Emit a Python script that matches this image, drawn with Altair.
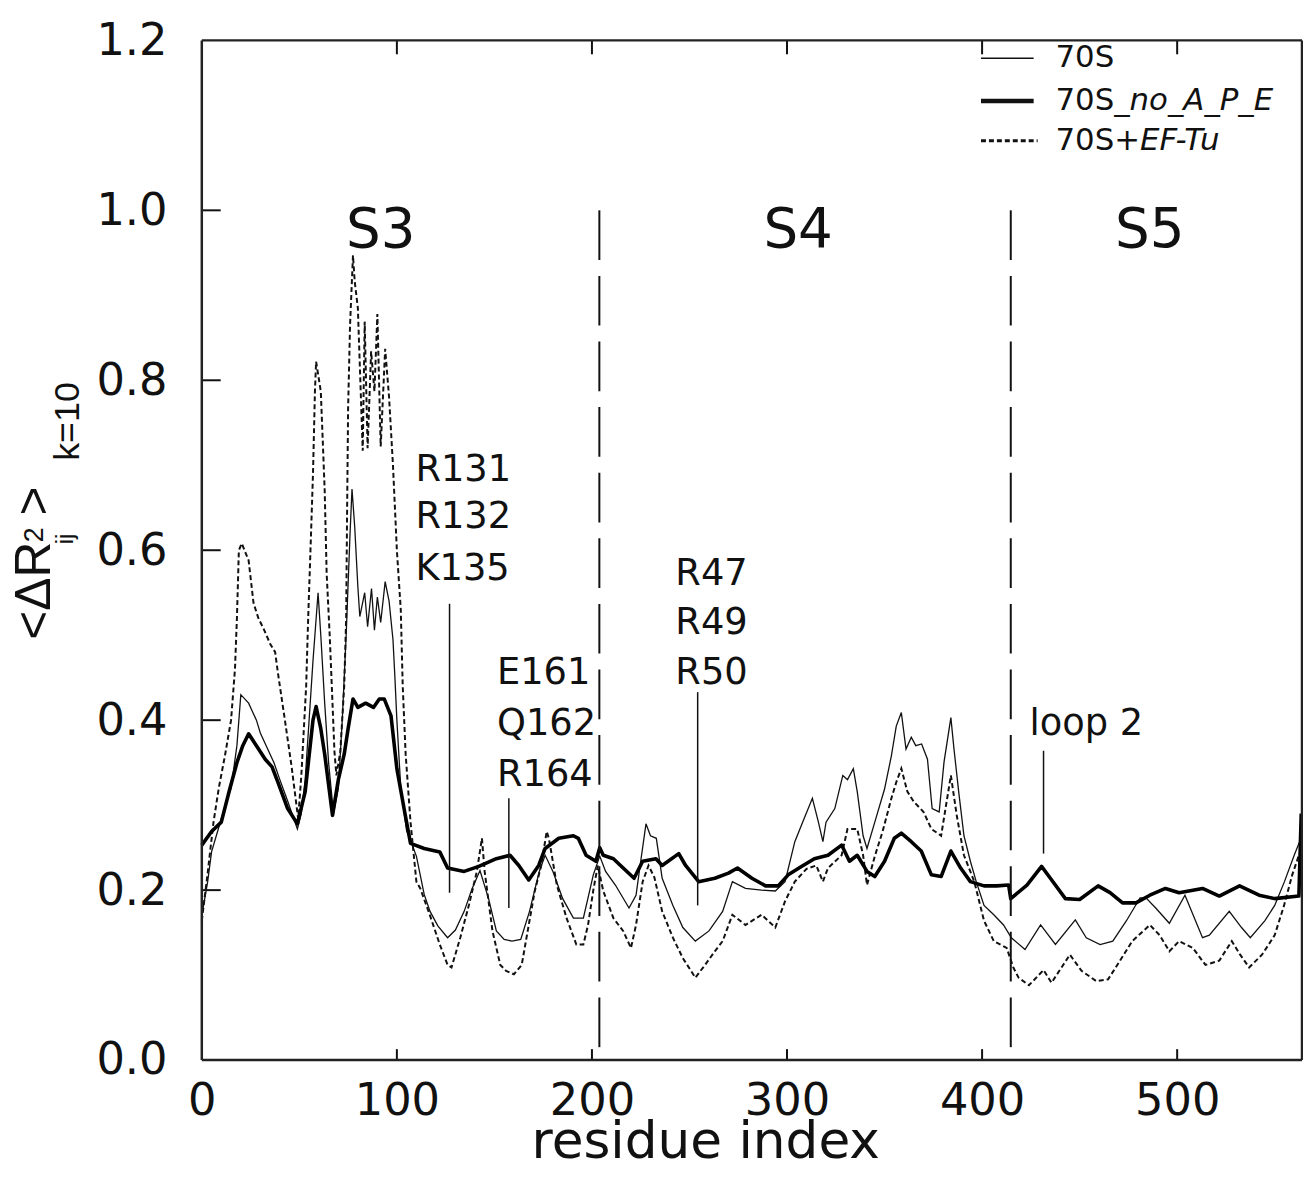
import altair as alt
import pandas as pd

# ---------------- data ----------------
thin_x = [0, 3, 5, 10, 15, 18, 20, 24, 26, 28, 30, 33, 37, 40, 44, 49, 51, 53, 55, 57, 59.6, 61, 63, 65, 67.5,
          70, 72, 74, 76, 77, 78.4, 80, 81, 83.5, 85, 87, 88.5, 90, 91.7, 94, 96, 98, 99, 100, 102, 105, 110,
          114, 117, 121, 126, 130, 134.5, 138.6, 142.6, 147, 151, 155, 159, 163.5, 168, 173, 176, 180, 185,
          190.5, 195.6, 200.7, 204, 207, 212, 219, 222.6, 225, 227.7, 230, 233, 236, 241.5, 246.6, 253, 260,
          267, 272, 278.7, 287, 294, 299, 304, 308, 313, 316, 318.4, 320, 324.5, 328.6, 331, 334, 336, 339,
          341, 345, 350, 353.5, 356, 358.6, 361, 363.7, 366, 369, 372, 374.4, 378, 380.5, 384, 385.6, 388,
          390.7, 394, 397, 401, 406, 411, 415, 422, 430, 437.6, 447.8, 453.4, 460.5, 467, 474, 481, 484, 489,
          496, 504, 513, 516.5, 526.7, 533, 537.5, 545, 550, 555, 560, 564]
thin_y = [0.17, 0.21, 0.245, 0.284, 0.32, 0.37, 0.43, 0.42, 0.41, 0.40, 0.385, 0.37, 0.35, 0.33, 0.305, 0.272,
          0.29, 0.33, 0.40, 0.47, 0.55, 0.50, 0.42, 0.35, 0.29,
          0.32, 0.40, 0.50, 0.62, 0.672, 0.627, 0.557, 0.522, 0.55, 0.51, 0.555, 0.506, 0.545, 0.515, 0.563,
          0.54, 0.495, 0.45, 0.40, 0.32, 0.27, 0.24,
          0.195, 0.175, 0.158, 0.144, 0.153, 0.175, 0.202, 0.223, 0.19, 0.152, 0.142, 0.14, 0.142, 0.175,
          0.222, 0.241, 0.222, 0.19,
          0.167, 0.167, 0.218, 0.24, 0.222, 0.206, 0.179, 0.194, 0.234, 0.278, 0.264, 0.261, 0.214, 0.182,
          0.156, 0.14, 0.152,
          0.175, 0.21, 0.202, 0.2, 0.199, 0.21, 0.257, 0.28, 0.308, 0.281, 0.257, 0.28, 0.296, 0.335, 0.33,
          0.343, 0.316, 0.264,
          0.249, 0.28, 0.319, 0.358, 0.393, 0.409, 0.366, 0.38, 0.37, 0.372, 0.354, 0.296, 0.292, 0.351,
          0.403, 0.366, 0.316,
          0.264, 0.234, 0.21, 0.182, 0.171, 0.159, 0.144, 0.13, 0.159, 0.136, 0.165, 0.144, 0.136, 0.14,
          0.164, 0.191, 0.191, 0.179,
          0.161, 0.194, 0.144, 0.147, 0.175, 0.156, 0.144, 0.164, 0.182, 0.21, 0.241, 0.264]

thick_x = [0, 5, 10, 14, 18, 21, 24, 28, 32.5, 36, 39, 44, 49, 53, 57, 58.6, 61, 63, 67, 70, 73, 75, 77.5,
           80, 84, 88, 91, 93.5, 97, 100, 104, 107, 114, 122, 126, 134.5, 142, 151, 158, 162.5, 167.6,
           172.7, 176, 183, 190.5, 193, 197, 202, 204, 205.8, 211, 216, 221.6, 226, 232.8, 236, 244.5, 248,
           254.7, 263, 270, 274.6, 282, 289, 295.5, 300.6, 307.6, 314, 321, 328, 332, 336, 341, 345, 350,
           355, 358.6, 363.7, 368.8, 374, 379, 384, 389, 394, 401, 407.5, 413.6, 414.7, 423, 430.5, 435,
           442.7, 450, 459.5, 465.6, 472, 478.9, 486, 494, 501, 513, 521.6, 532, 542, 550, 562.4, 563.6]
thick_y = [0.253, 0.269, 0.28, 0.316, 0.35, 0.37, 0.384, 0.37, 0.354, 0.345, 0.327, 0.296, 0.278, 0.316,
           0.40, 0.416, 0.39, 0.36, 0.288, 0.33, 0.36, 0.39, 0.425,
           0.415, 0.42, 0.415, 0.425, 0.425, 0.405, 0.343, 0.292, 0.255, 0.249, 0.245, 0.226, 0.222,
           0.228, 0.237, 0.241, 0.229, 0.212,
           0.229, 0.249, 0.261, 0.264, 0.261, 0.241, 0.234, 0.25, 0.241, 0.237, 0.226, 0.214, 0.234,
           0.237, 0.229, 0.243, 0.229,
           0.21, 0.214, 0.22, 0.226, 0.214, 0.205, 0.205, 0.218, 0.228, 0.237, 0.241, 0.253, 0.234,
           0.241, 0.222, 0.216, 0.234,
           0.261, 0.267, 0.257, 0.246, 0.218, 0.216, 0.246, 0.226, 0.21, 0.205, 0.205, 0.206, 0.19,
           0.206, 0.228, 0.214,
           0.19, 0.189, 0.205, 0.197, 0.185, 0.185, 0.194, 0.202, 0.197, 0.202, 0.193, 0.205, 0.194,
           0.19, 0.193, 0.29]

dash_x = [0, 3, 6, 8.7, 12, 15, 17, 18, 19, 20.5, 24, 26.5, 29, 31.6, 35, 37.6, 39, 42.6, 46, 49.4, 51,
          53.5, 54.5, 56, 57, 58, 58.6, 61, 62, 63, 64, 65.6, 67, 68, 69, 71, 73, 74, 74.5, 75, 76, 77.5,
          78.4, 80, 82.5, 83.5, 85, 86.8, 88.5, 90, 91.7, 94, 96, 98, 99, 100, 102, 103, 104.5, 107, 110,
          112, 117, 122, 126, 128, 132.5, 137, 141, 143.6, 145, 149, 153, 156, 160, 164, 167.6, 170.7, 174,
          176.8, 178, 182, 187, 192, 195.6, 198, 200.7, 203, 205.8, 211, 216, 220, 222.6, 226, 229, 232,
          236, 241.5, 246.6, 253, 258, 263, 267, 272, 278.7, 287, 294, 299, 304, 310, 315, 318.4, 321,
          328, 331, 336, 339, 341, 345, 349, 353.5, 356, 358.6, 361.7, 365, 370, 374, 379, 384, 387,
          390.7, 396, 401, 406, 412.6, 416, 418.7, 424, 431.5, 435.6, 445, 451, 458.5, 464.6, 470.7, 477,
          486, 491, 496, 501, 508, 514.5, 521.6, 528, 532, 536.9, 543.5, 550, 554.8, 559, 562.4]
dash_y = [0.164, 0.22, 0.28, 0.32, 0.36, 0.40, 0.46, 0.52, 0.60, 0.608, 0.588, 0.538, 0.52, 0.508, 0.49,
          0.48, 0.456, 0.40, 0.346, 0.284, 0.334,
          0.44, 0.518, 0.62, 0.69, 0.787, 0.822, 0.787, 0.729, 0.67, 0.573, 0.498, 0.42, 0.363, 0.335,
          0.363, 0.44, 0.52, 0.65, 0.767, 0.865, 0.947,
          0.916, 0.885, 0.717, 0.869, 0.72, 0.834, 0.787, 0.878, 0.722, 0.837, 0.78, 0.70, 0.65, 0.60,
          0.53, 0.44, 0.36, 0.28, 0.21,
          0.202, 0.17, 0.136, 0.112, 0.109, 0.144, 0.183, 0.222, 0.261, 0.222, 0.152, 0.112, 0.105,
          0.101, 0.112, 0.159, 0.199, 0.229,
          0.269, 0.26, 0.206, 0.167, 0.136, 0.136, 0.159, 0.20, 0.229, 0.199, 0.167, 0.152, 0.132,
          0.159, 0.21, 0.229, 0.215,
          0.175, 0.144, 0.12, 0.097, 0.112, 0.128, 0.14, 0.171, 0.159, 0.171, 0.156, 0.187, 0.21, 0.225,
          0.229, 0.21, 0.226,
          0.241, 0.272, 0.272, 0.241, 0.206, 0.24, 0.269, 0.308, 0.327, 0.343, 0.316, 0.304, 0.292,
          0.272, 0.264, 0.335, 0.288,
          0.241, 0.21, 0.164, 0.14, 0.132, 0.109, 0.097, 0.088, 0.106, 0.091, 0.124, 0.105, 0.093, 0.095,
          0.117, 0.14,
          0.159, 0.147, 0.128, 0.14, 0.132, 0.112, 0.117, 0.14, 0.125, 0.109, 0.124, 0.147, 0.182,
          0.218, 0.241]

boundary_x = [203.8, 414.7]

region_labels = ["S3", "S4", "S5"]
region_x = [91.7, 305.7, 486.0]
region_y = [0.957, 0.957, 0.957]

ann_left_labels = ["R131", "R132", "K135", "E161", "Q162", "R164"]
ann_left_x = [109.5, 109.5, 109.5, 151.3, 151.3, 151.3]
ann_left_y = [0.682, 0.626, 0.565, 0.442, 0.382, 0.323]

ann_center_labels = ["R47", "R49", "R50", "loop 2"]
ann_center_x = [261.3, 261.3, 261.3, 453.4]
ann_center_y = [0.559, 0.501, 0.442, 0.382]

pointer_x = [127.0, 157.4, 254.2, 431.5]
pointer_top = [0.537, 0.308, 0.433, 0.364]
pointer_bottom = [0.197, 0.179, 0.182, 0.243]

x_ticks = [0, 100, 200, 300, 400, 500]
y_ticks = [0.0, 0.2, 0.4, 0.6, 0.8, 1.0, 1.2]

# ---------------- chart ----------------
W, H = 1107, 1026
FONT = "DejaVu Sans"
INK = "#111111"

X = alt.X("x:Q", scale=alt.Scale(domain=[0, 564], nice=False, zero=False),
          axis=alt.Axis(values=x_ticks, format="d", title=None, ticks=False, domain=False, grid=False,
                        labelFont=FONT, labelFontSize=45, labelColor=INK, labelFlush=False,
                        labelBaseline="alphabetic", labelPadding=55, labelOverlap=False))
Y = alt.Y("y:Q", scale=alt.Scale(domain=[0, 1.2], nice=False, zero=False),
          axis=alt.Axis(values=y_ticks, format=".1f", title=None, ticks=False, domain=False, grid=False,
                        labelFont=FONT, labelFontSize=45, labelColor=INK, labelFlush=False,
                        labelPadding=35, labelOverlap=False))

thin = alt.Chart(pd.DataFrame({"x": thin_x, "y": thin_y})).mark_line(
    color=INK, strokeWidth=1.3).encode(x=X, y=Y)
dashed = alt.Chart(pd.DataFrame({"x": dash_x, "y": dash_y})).mark_line(
    color=INK, strokeWidth=2, strokeDash=[5, 3]).encode(x=X, y=Y)
thick = alt.Chart(pd.DataFrame({"x": thick_x, "y": thick_y})).mark_line(
    color="#000000", strokeWidth=3.6, strokeJoin="round").encode(x=X, y=Y)

bounds = alt.Chart(pd.DataFrame({"x": boundary_x, "y": [1.0] * 2, "y2": [0.0] * 2})).mark_rule(
    color=INK, strokeWidth=2, strokeDash=[50, 16]).encode(x=X, y=Y, y2="y2:Q")

pointers = alt.Chart(pd.DataFrame({"x": pointer_x, "y": pointer_top, "y2": pointer_bottom})).mark_rule(
    color=INK, strokeWidth=1.5).encode(x=X, y=Y, y2="y2:Q")

regions = alt.Chart(pd.DataFrame({"x": region_x, "y": region_y, "t": region_labels})).mark_text(
    font=FONT, fontSize=55, color=INK, align="center", baseline="alphabetic").encode(x=X, y=Y, text="t:N")
ann_left = alt.Chart(pd.DataFrame({"x": ann_left_x, "y": ann_left_y, "t": ann_left_labels})).mark_text(
    font=FONT, fontSize=37, color=INK, align="left", baseline="alphabetic").encode(x=X, y=Y, text="t:N")
ann_center = alt.Chart(pd.DataFrame({"x": ann_center_x, "y": ann_center_y, "t": ann_center_labels})).mark_text(
    font=FONT, fontSize=37, color=INK, align="center", baseline="alphabetic").encode(x=X, y=Y, text="t:N")

# inward ticks
xt = pd.DataFrame({"x": x_ticks[1:]})
ticks_bottom = alt.Chart(xt).mark_rule(color=INK, strokeWidth=2).encode(
    x=X, y=alt.value(H), y2=alt.value(H - 11))
ticks_top = alt.Chart(xt).mark_rule(color=INK, strokeWidth=2).encode(
    x=X, y=alt.value(0), y2=alt.value(14))
yt = pd.DataFrame({"y": y_ticks[1:-1]})
ticks_left = alt.Chart(yt).mark_rule(color=INK, strokeWidth=2).encode(
    y=Y, x=alt.value(0), x2=alt.value(19))

one = pd.DataFrame({"a": [0]})


def txt(s, x, y, size, **kw):
    return alt.Chart(one).mark_text(text=s, font=kw.pop("font", FONT), fontSize=size, color=INK,
                                    **kw).encode(x=alt.value(x), y=alt.value(y))


def seg(x1, x2, y, width, dash=None):
    kw = {"strokeDash": dash} if dash else {}
    return alt.Chart(one).mark_rule(color=INK, strokeWidth=width, **kw).encode(
        x=alt.value(x1), x2=alt.value(x2), y=alt.value(y))


# plot frame
frame = [
    alt.Chart(one).mark_rule(color="#222222", strokeWidth=2.5).encode(
        x=alt.value(0), x2=alt.value(W), y=alt.value(0)),
    alt.Chart(one).mark_rule(color="#222222", strokeWidth=2.5).encode(
        x=alt.value(0), x2=alt.value(W), y=alt.value(H)),
    alt.Chart(one).mark_rule(color="#222222", strokeWidth=2.5).encode(
        x=alt.value(0), y=alt.value(0), y2=alt.value(H)),
    alt.Chart(one).mark_rule(color="#222222", strokeWidth=2.5).encode(
        x=alt.value(W), y=alt.value(0), y2=alt.value(H)),
]

# legend (drawn inside the plot, top right)
LX1, LX2, TX = 784, 837, 859
LF = 31
legend = [
    seg(LX1, LX2, 18, 1.3), seg(LX1, LX2, 61, 4.5), seg(LX1, LX2 + 4, 101, 3, [5, 3]),
    txt("70S", TX, 18, LF, align="left", baseline="middle"),
    txt("70S", TX, 61, LF, align="left", baseline="middle"),
    txt("_no_A_P_E", TX + 59, 61, LF, align="left", baseline="middle", fontStyle="italic"),
    txt("70S+", TX, 101, LF, align="left", baseline="middle"),
    txt("EF-Tu", TX + 85, 101, LF, align="left", baseline="middle", fontStyle="italic"),
]

# y-axis title <ΔR_ij^2>_k=10, rotated
YF = "Liberation Sans"
ytitle = [
    txt("<ΔR", -153, 603, 50, font=YF, angle=270, align="left", baseline="alphabetic"),
    txt("ij", -130, 507, 24, font=YF, angle=270, align="left", baseline="alphabetic"),
    txt("2", -160, 505, 27, font=YF, angle=270, align="left", baseline="alphabetic"),
    txt(">", -153, 478, 50, font=YF, angle=270, align="left", baseline="alphabetic"),
    txt("k=10", -124, 423, 36, font=YF, angle=270, align="left", baseline="alphabetic"),
]

xtitle = txt("residue index", 507, 1125, 52, align="center", baseline="alphabetic")

chart = alt.layer(
    thin, dashed, thick, bounds, pointers, regions, ann_left, ann_center,
    ticks_bottom, ticks_top, ticks_left, *frame, *legend, *ytitle, xtitle
).properties(
    width=W, height=H,
    background="white",
    autosize=alt.AutoSizeParams(type="none"),
    padding={"left": 195, "top": 29, "right": 1, "bottom": 103},
).configure_view(
    stroke=None
)

chart.save("out.html", embed_options={"renderer": "svg", "actions": False})
